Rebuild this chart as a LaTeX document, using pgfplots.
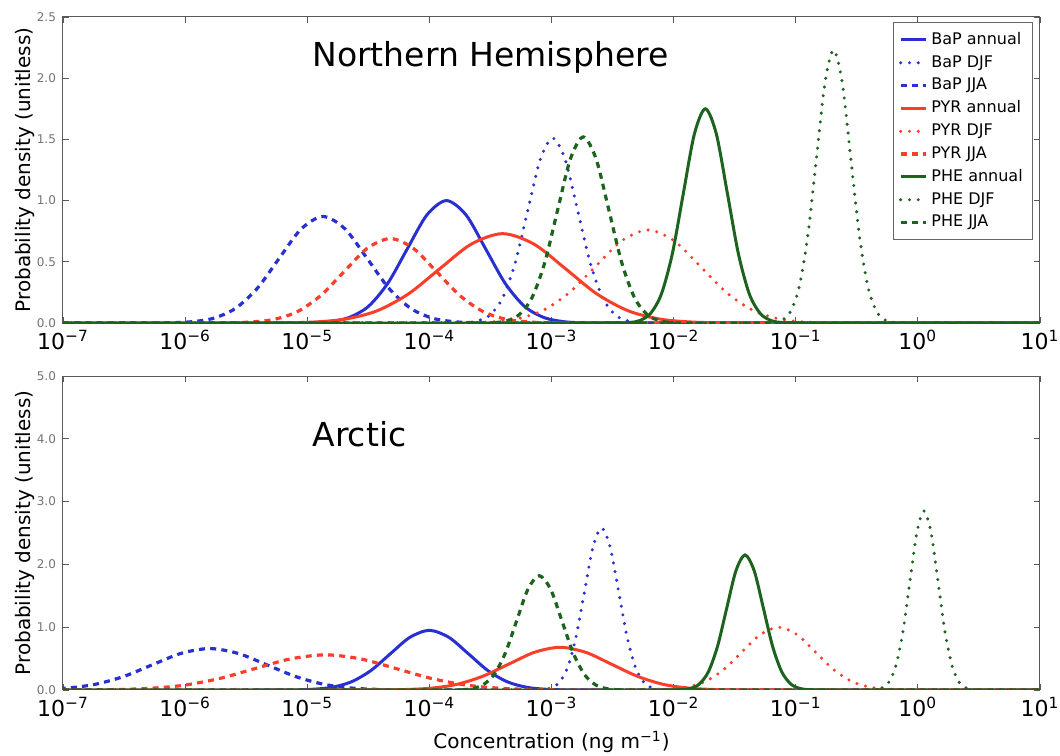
\documentclass[border=0pt]{standalone}
\usepackage{fontspec}
\setmainfont{DejaVu Sans}
\usepackage{pgfplots}
\pgfplotsset{compat=1.18}

\definecolor{bapblue}{RGB}{40,48,210}
\definecolor{pyrred}{RGB}{250,62,42}
\definecolor{phegreen}{RGB}{28,100,30}

\tikzset{paneltitle/.style={font=\fontsize{16.5}{16.5}\selectfont, anchor=base west, inner sep=0pt}}

\pgfplotsset{
  panel/.style={
    width=488.5pt, scale only axis,
    xmin=-7, xmax=1, ymin=0,
    xtick={-7,-6,-5,-4,-3,-2,-1,0,1},
    xticklabels={10\textsuperscript{−7},10\textsuperscript{−6},10\textsuperscript{−5},10\textsuperscript{−4},10\textsuperscript{−3},10\textsuperscript{−2},10\textsuperscript{−1},10\textsuperscript{0},10\textsuperscript{1}},
    tick align=inside, major tick length=3pt,
    axis line style={black!65, line width=0.5pt},
    tick style={black!65, line width=0.4pt},
    xticklabel style={font=\fontsize{11}{11}\selectfont, text=black},
    yticklabel style={font=\fontsize{6}{6}\selectfont, text=black!55,
      /pgf/number format/.cd, fixed, fixed zerofill, precision=1},
    /pgf/number format/assume math mode=true,
    ylabel={Probability density (unitless)},
    every axis y label/.style={at={(axis description cs:0,0.5)}, xshift=-19pt,
      rotate=90, anchor=center, font=\fontsize{10}{10}\selectfont},
    legend image code/.code={\draw[#1] (0pt,0pt) -- (12.5pt,0pt);},
  },
  annual/.style={line width=1.5pt, smooth},
  djf/.style={line width=1.7pt, line cap=round, dash pattern=on 0pt off 4.4pt, smooth},
  jja/.style={line width=1.6pt, dash pattern=on 3pt off 2.6pt, smooth},
}

\begin{document}
\begin{tikzpicture}
% Northern Hemisphere
\begin{axis}[panel, name=nh, height=153pt, ymax=2.5,
  ytick={0,0.5,1,1.5,2,2.5},
  legend style={at={(rel axis cs:0.993,0.984)}, anchor=north east,
    draw=black!60, line width=0.4pt, font=\fontsize{8}{9}\selectfont,
    row sep=0pt, inner sep=3pt},
  legend cell align=left]
\addplot[bapblue, annual] coordinates {(-7,0) (-5.30,0) (-4.98,0.002) (-4.82,0.011) (-4.66,0.044) (-4.50,0.135) (-4.34,0.325) (-4.18,0.607) (-4.02,0.883) (-3.86,1.000) (-3.70,0.883) (-3.54,0.607) (-3.38,0.325) (-3.22,0.135) (-3.06,0.044) (-2.90,0.011) (-2.74,0.002) (-2.42,0) (1,0)};
\addlegendentry{BaP annual}
\addplot[bapblue, djf] coordinates {(-7,0) (-3.9125,0) (-3.7075,0.003) (-3.605,0.017) (-3.5025,0.066) (-3.40,0.204) (-3.2975,0.490) (-3.195,0.916) (-3.0925,1.333) (-2.99,1.510) (-2.8875,1.333) (-2.785,0.916) (-2.6825,0.490) (-2.58,0.204) (-2.4775,0.066) (-2.375,0.017) (-2.2725,0.003) (-2.0675,0) (1,0)};
\addlegendentry{BaP DJF}
\addplot[bapblue, jja] coordinates {(-7,0) (-6.49,0) (-6.13,0.002) (-5.95,0.010) (-5.77,0.038) (-5.59,0.118) (-5.41,0.282) (-5.23,0.528) (-5.05,0.768) (-4.87,0.870) (-4.69,0.768) (-4.51,0.528) (-4.33,0.282) (-4.15,0.118) (-3.97,0.038) (-3.79,0.010) (-3.61,0.002) (-3.25,0) (1,0)};
\addlegendentry{BaP JJA}
\addplot[pyrred, annual] coordinates {(-7,0) (-5.7175,0) (-5.2025,0.002) (-4.945,0.008) (-4.6875,0.032) (-4.43,0.099) (-4.1725,0.237) (-3.915,0.443) (-3.6575,0.644) (-3.40,0.730) (-3.1425,0.644) (-2.885,0.443) (-2.6275,0.237) (-2.37,0.099) (-2.1125,0.032) (-1.855,0.008) (-1.5975,0.002) (-1.0825,0) (1,0)};
\addlegendentry{PYR annual}
\addplot[pyrred, djf] coordinates {(-7,0) (-4.145,0) (-3.715,0.002) (-3.50,0.008) (-3.285,0.033) (-3.07,0.103) (-2.855,0.247) (-2.64,0.461) (-2.425,0.671) (-2.21,0.760) (-1.995,0.671) (-1.78,0.461) (-1.565,0.247) (-1.35,0.103) (-1.135,0.033) (-0.92,0.008) (-0.705,0.002) (-0.275,0) (1,0)};
\addlegendentry{PYR DJF}
\addplot[pyrred, jja] coordinates {(-7,0) (-6.03,0) (-5.65,0.002) (-5.46,0.008) (-5.27,0.030) (-5.08,0.093) (-4.89,0.224) (-4.70,0.418) (-4.51,0.609) (-4.32,0.690) (-4.13,0.609) (-3.94,0.418) (-3.75,0.224) (-3.56,0.093) (-3.37,0.030) (-3.18,0.008) (-2.99,0.002) (-2.61,0) (1,0)};
\addlegendentry{PYR JJA}
\addplot[phegreen, annual] coordinates {(-7,0) (-2.55,0) (-2.37,0.004) (-2.28,0.019) (-2.19,0.077) (-2.10,0.237) (-2.01,0.568) (-1.92,1.061) (-1.83,1.544) (-1.74,1.750) (-1.65,1.544) (-1.56,1.061) (-1.47,0.568) (-1.38,0.237) (-1.29,0.077) (-1.20,0.019) (-1.11,0.004) (-0.93,0) (1,0)};
\addlegendentry{PHE annual}
\addplot[phegreen, djf] coordinates {(-7,0) (-1.32,0) (-1.18,0.005) (-1.11,0.025) (-1.04,0.098) (-0.97,0.302) (-0.90,0.724) (-0.83,1.352) (-0.76,1.968) (-0.69,2.230) (-0.62,1.968) (-0.55,1.352) (-0.48,0.724) (-0.41,0.302) (-0.34,0.098) (-0.27,0.025) (-0.20,0.005) (-0.06,0) (1,0)};
\addlegendentry{PHE DJF}
\addplot[phegreen, jja] coordinates {(-7,0) (-3.685,0) (-3.475,0.003) (-3.37,0.017) (-3.265,0.067) (-3.16,0.206) (-3.055,0.494) (-2.95,0.922) (-2.845,1.341) (-2.74,1.520) (-2.635,1.341) (-2.53,0.922) (-2.425,0.494) (-2.32,0.206) (-2.215,0.067) (-2.11,0.017) (-2.005,0.003) (-1.795,0) (1,0)};
\addlegendentry{PHE JJA}
\node[paneltitle] at (rel axis cs:0.255,0.837) {Northern Hemisphere};
\end{axis}

% Arctic
\begin{axis}[panel, at={(0pt,-26.5pt)}, anchor=north west, height=157pt, ymax=5,
  ytick={0,1,2,3,4,5},
  xlabel={Concentration (ng m\textsuperscript{−1})},
  every axis x label/.style={at={(axis description cs:0.5,0)}, yshift=-26pt,
    anchor=center, font=\fontsize{10}{10}\selectfont}]
\addplot[bapblue, annual] coordinates {(-7,0) (-5.44,0) (-5.12,0.002) (-4.96,0.011) (-4.80,0.042) (-4.64,0.129) (-4.48,0.308) (-4.32,0.576) (-4.16,0.838) (-4.00,0.950) (-3.84,0.838) (-3.68,0.576) (-3.52,0.308) (-3.36,0.129) (-3.20,0.042) (-3.04,0.011) (-2.88,0.002) (-2.56,0) (1,0)};
\addplot[bapblue, djf] coordinates {(-7,0) (-3.22,0) (-3.08,0.006) (-3.01,0.029) (-2.94,0.113) (-2.87,0.349) (-2.80,0.838) (-2.73,1.565) (-2.66,2.277) (-2.59,2.580) (-2.52,2.277) (-2.45,1.565) (-2.38,0.838) (-2.31,0.349) (-2.24,0.113) (-2.17,0.029) (-2.10,0.006) (-1.96,0) (1,0)};
\addplot[bapblue, jja] coordinates {(-7.21,0.007) (-6.975,0.029) (-6.74,0.089) (-6.505,0.214) (-6.27,0.400) (-6.035,0.582) (-5.80,0.660) (-5.565,0.582) (-5.33,0.400) (-5.095,0.214) (-4.86,0.089) (-4.625,0.029) (-4.39,0.007) (-4.155,0.001) (-3.685,0) (1,0)};
\addplot[pyrred, annual] coordinates {(-7,0) (-4.82,0) (-4.40,0.002) (-4.19,0.008) (-3.98,0.030) (-3.77,0.092) (-3.56,0.221) (-3.35,0.412) (-3.14,0.600) (-2.93,0.680) (-2.72,0.600) (-2.51,0.412) (-2.30,0.221) (-2.09,0.092) (-1.88,0.030) (-1.67,0.008) (-1.46,0.002) (-1.04,0) (1,0)};
\addplot[pyrred, djf] coordinates {(-7,0) (-2.49,0) (-2.19,0.002) (-2.04,0.011) (-1.89,0.044) (-1.74,0.135) (-1.59,0.325) (-1.44,0.607) (-1.29,0.883) (-1.14,1.000) (-0.99,0.883) (-0.84,0.607) (-0.69,0.325) (-0.54,0.135) (-0.39,0.044) (-0.24,0.011) (-0.09,0.002) (0.21,0) (1,0)};
\addplot[pyrred, jja] coordinates {(-7,0) (-6.88,0.001) (-6.59,0.006) (-6.30,0.025) (-6.01,0.076) (-5.72,0.182) (-5.43,0.340) (-5.14,0.494) (-4.85,0.560) (-4.56,0.494) (-4.27,0.340) (-3.98,0.182) (-3.69,0.076) (-3.40,0.025) (-3.11,0.006) (-2.82,0.001) (-2.24,0) (1,0)};
\addplot[phegreen, annual] coordinates {(-7,0) (-2.09,0) (-1.94,0.005) (-1.865,0.024) (-1.79,0.094) (-1.715,0.291) (-1.64,0.698) (-1.565,1.304) (-1.49,1.897) (-1.415,2.150) (-1.34,1.897) (-1.265,1.304) (-1.19,0.698) (-1.115,0.291) (-1.04,0.094) (-0.965,0.024) (-0.89,0.005) (-0.74,0) (1,0)};
\addplot[phegreen, djf] coordinates {(-7,0) (-0.4675,0) (-0.3525,0.006) (-0.295,0.032) (-0.2375,0.125) (-0.18,0.386) (-0.1225,0.925) (-0.065,1.729) (-0.0075,2.515) (0.05,2.850) (0.1075,2.515) (0.165,1.729) (0.2225,0.925) (0.28,0.386) (0.3375,0.125) (0.395,0.032) (0.4525,0.006) (0.5675,0) (1,0)};
\addplot[phegreen, jja] coordinates {(-7,0) (-3.9325,0) (-3.7475,0.004) (-3.655,0.020) (-3.5625,0.080) (-3.47,0.246) (-3.3775,0.591) (-3.285,1.104) (-3.1925,1.606) (-3.10,1.820) (-3.0075,1.606) (-2.915,1.104) (-2.8225,0.591) (-2.73,0.246) (-2.6375,0.080) (-2.545,0.020) (-2.4525,0.004) (-2.2675,0) (1,0)};
\node[paneltitle] at (rel axis cs:0.255,0.774) {Arctic};
\end{axis}

\pgfresetboundingbox
\path[use as bounding box] (-31.5pt,-216pt) rectangle (498.5pt,161.5pt);
\end{tikzpicture}
\end{document}
